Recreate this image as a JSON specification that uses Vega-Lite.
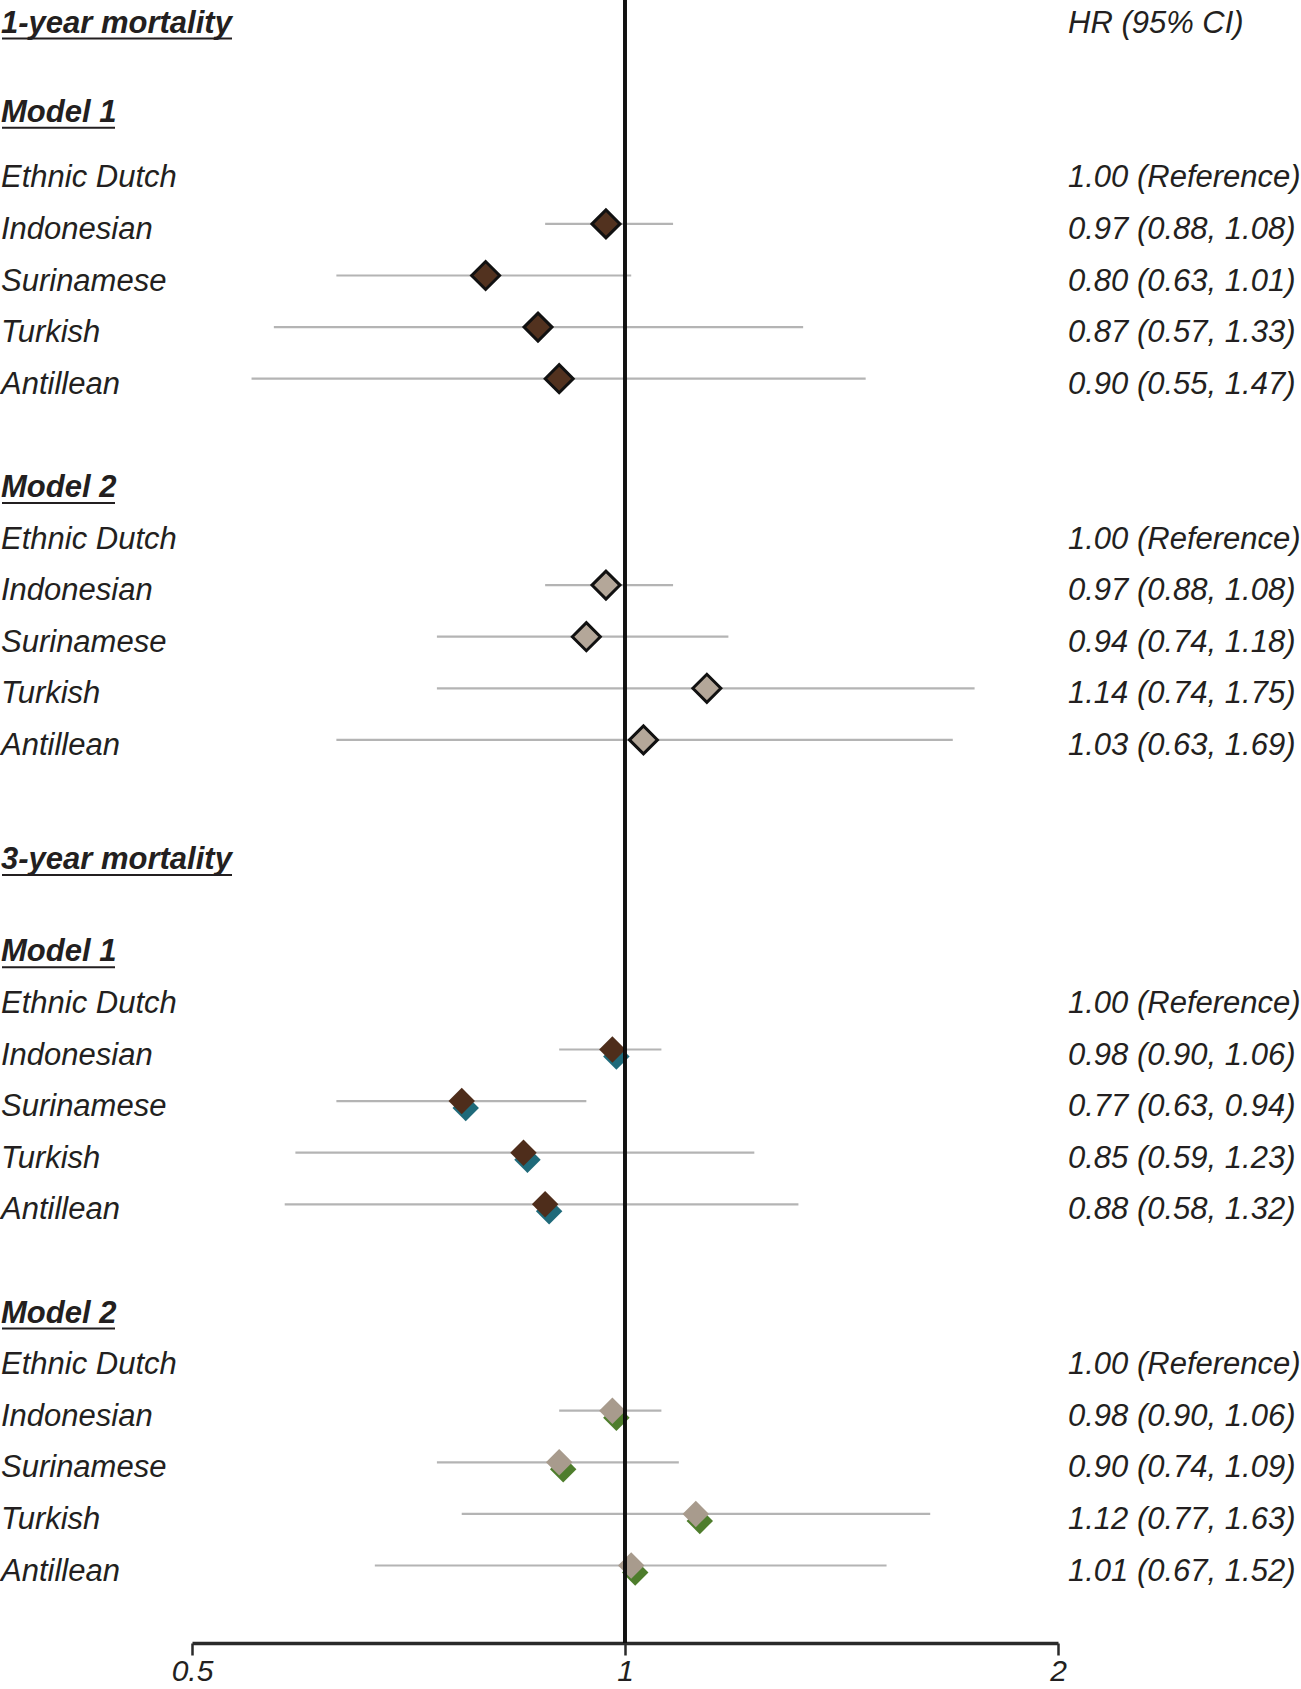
{
  "$schema": "https://vega.github.io/schema/vega-lite/v6.json",
  "width": 1301,
  "height": 1643,
  "autosize": {"type": "none"},
  "padding": {"left": 0, "top": 0, "right": 0, "bottom": 46},
  "background": "white",
  "config": {
    "view": {"stroke": null},
    "font": "Liberation Sans",
    "axisX": {
      "domainColor": "#2a2a2a", "domainWidth": 3.5,
      "tickColor": "#2a2a2a", "tickWidth": 2.5, "tickSize": 12,
      "labelPadding": 1, "labelFontSize": 30, "labelFontStyle": "italic",
      "labelColor": "#231f20", "labelFont": "Liberation Sans",
      "grid": false, "labelFlush": false, "labelOverlap": false
    }
  },
  "data": {
    "values": [
      {"id": "1y", "period": "1y", "model": null, "row_type": "title", "label": "1-year mortality", "hr": null, "lo": null, "hi": null, "hr_text": "HR (95% CI)"},
      {"id": "1y-M1", "period": "1y", "model": "Model 1", "row_type": "model", "label": "Model 1", "hr": null, "lo": null, "hi": null, "hr_text": null},
      {"id": "1y-M1-ED", "period": "1y", "model": "Model 1", "row_type": "group", "label": "Ethnic Dutch", "hr": null, "lo": null, "hi": null, "hr_text": "1.00 (Reference)"},
      {"id": "1y-M1-IN", "period": "1y", "model": "Model 1", "row_type": "group", "label": "Indonesian", "hr": 0.97, "lo": 0.88, "hi": 1.08, "hr_text": "0.97 (0.88, 1.08)"},
      {"id": "1y-M1-SU", "period": "1y", "model": "Model 1", "row_type": "group", "label": "Surinamese", "hr": 0.80, "lo": 0.63, "hi": 1.01, "hr_text": "0.80 (0.63, 1.01)"},
      {"id": "1y-M1-TU", "period": "1y", "model": "Model 1", "row_type": "group", "label": "Turkish", "hr": 0.87, "lo": 0.57, "hi": 1.33, "hr_text": "0.87 (0.57, 1.33)"},
      {"id": "1y-M1-AN", "period": "1y", "model": "Model 1", "row_type": "group", "label": "Antillean", "hr": 0.90, "lo": 0.55, "hi": 1.47, "hr_text": "0.90 (0.55, 1.47)"},
      {"id": "1y-M2", "period": "1y", "model": "Model 2", "row_type": "model", "label": "Model 2", "hr": null, "lo": null, "hi": null, "hr_text": null},
      {"id": "1y-M2-ED", "period": "1y", "model": "Model 2", "row_type": "group", "label": "Ethnic Dutch", "hr": null, "lo": null, "hi": null, "hr_text": "1.00 (Reference)"},
      {"id": "1y-M2-IN", "period": "1y", "model": "Model 2", "row_type": "group", "label": "Indonesian", "hr": 0.97, "lo": 0.88, "hi": 1.08, "hr_text": "0.97 (0.88, 1.08)"},
      {"id": "1y-M2-SU", "period": "1y", "model": "Model 2", "row_type": "group", "label": "Surinamese", "hr": 0.94, "lo": 0.74, "hi": 1.18, "hr_text": "0.94 (0.74, 1.18)"},
      {"id": "1y-M2-TU", "period": "1y", "model": "Model 2", "row_type": "group", "label": "Turkish", "hr": 1.14, "lo": 0.74, "hi": 1.75, "hr_text": "1.14 (0.74, 1.75)"},
      {"id": "1y-M2-AN", "period": "1y", "model": "Model 2", "row_type": "group", "label": "Antillean", "hr": 1.03, "lo": 0.63, "hi": 1.69, "hr_text": "1.03 (0.63, 1.69)"},
      {"id": "3y", "period": "3y", "model": null, "row_type": "title", "label": "3-year mortality", "hr": null, "lo": null, "hi": null, "hr_text": null},
      {"id": "3y-M1", "period": "3y", "model": "Model 1", "row_type": "model", "label": "Model 1", "hr": null, "lo": null, "hi": null, "hr_text": null},
      {"id": "3y-M1-ED", "period": "3y", "model": "Model 1", "row_type": "group", "label": "Ethnic Dutch", "hr": null, "lo": null, "hi": null, "hr_text": "1.00 (Reference)"},
      {"id": "3y-M1-IN", "period": "3y", "model": "Model 1", "row_type": "group", "label": "Indonesian", "hr": 0.98, "lo": 0.90, "hi": 1.06, "hr_text": "0.98 (0.90, 1.06)"},
      {"id": "3y-M1-SU", "period": "3y", "model": "Model 1", "row_type": "group", "label": "Surinamese", "hr": 0.77, "lo": 0.63, "hi": 0.94, "hr_text": "0.77 (0.63, 0.94)"},
      {"id": "3y-M1-TU", "period": "3y", "model": "Model 1", "row_type": "group", "label": "Turkish", "hr": 0.85, "lo": 0.59, "hi": 1.23, "hr_text": "0.85 (0.59, 1.23)"},
      {"id": "3y-M1-AN", "period": "3y", "model": "Model 1", "row_type": "group", "label": "Antillean", "hr": 0.88, "lo": 0.58, "hi": 1.32, "hr_text": "0.88 (0.58, 1.32)"},
      {"id": "3y-M2", "period": "3y", "model": "Model 2", "row_type": "model", "label": "Model 2", "hr": null, "lo": null, "hi": null, "hr_text": null},
      {"id": "3y-M2-ED", "period": "3y", "model": "Model 2", "row_type": "group", "label": "Ethnic Dutch", "hr": null, "lo": null, "hi": null, "hr_text": "1.00 (Reference)"},
      {"id": "3y-M2-IN", "period": "3y", "model": "Model 2", "row_type": "group", "label": "Indonesian", "hr": 0.98, "lo": 0.90, "hi": 1.06, "hr_text": "0.98 (0.90, 1.06)"},
      {"id": "3y-M2-SU", "period": "3y", "model": "Model 2", "row_type": "group", "label": "Surinamese", "hr": 0.90, "lo": 0.74, "hi": 1.09, "hr_text": "0.90 (0.74, 1.09)"},
      {"id": "3y-M2-TU", "period": "3y", "model": "Model 2", "row_type": "group", "label": "Turkish", "hr": 1.12, "lo": 0.77, "hi": 1.63, "hr_text": "1.12 (0.77, 1.63)"},
      {"id": "3y-M2-AN", "period": "3y", "model": "Model 2", "row_type": "group", "label": "Antillean", "hr": 1.01, "lo": 0.67, "hi": 1.52, "hr_text": "1.01 (0.67, 1.52)"}
    ]
  },
  "layer": [
    {
      "encoding": {
        "y": {
          "field": "id", "type": "nominal", "axis": null,
          "scale": {
            "type": "point", "padding": 0, "range": [17.5, 1565.5],
            "domain": ["1y", "gap1", "1y-M1", "1y-M1-ED", "1y-M1-IN", "1y-M1-SU", "1y-M1-TU", "1y-M1-AN", "gap2", "1y-M2", "1y-M2-ED", "1y-M2-IN", "1y-M2-SU", "1y-M2-TU", "1y-M2-AN", "gap3", "3y", "gap4", "3y-M1", "3y-M1-ED", "3y-M1-IN", "3y-M1-SU", "3y-M1-TU", "3y-M1-AN", "gap5", "3y-M2", "3y-M2-ED", "3y-M2-IN", "3y-M2-SU", "3y-M2-TU", "3y-M2-AN"]
          }
        }
      },
      "layer": [
        {
          "transform": [{"filter": "isValid(datum.lo)"}],
          "mark": {"type": "rule", "color": "#b4b4b4", "strokeWidth": 2.2},
          "encoding": {
            "x": {"field": "lo", "type": "quantitative", "scale": {"type": "log", "domain": [0.5, 2], "range": [192, 1058]}, "axis": {"values": [0.5, 1, 2], "title": null, "labelExpr": "format(datum.value, '~g')"}},
            "x2": {"field": "hi"}
          }
        },
        {
          "transform": [{"filter": "datum.period === '3y' && isValid(datum.hr)"}],
          "mark": {"type": "point", "shape": "diamond", "filled": true, "size": 700, "opacity": 1, "xOffset": 4, "yOffset": 7, "strokeWidth": 0},
          "encoding": {
            "x": {"field": "hr", "type": "quantitative", "scale": {"type": "log", "domain": [0.5, 2], "range": [192, 1058]}, "title": null},
            "fill": {"condition": {"test": "datum.model === 'Model 1'", "value": "#1f6a7a"}, "value": "#4e7d2c"}
          }
        },
        {
          "transform": [{"filter": "datum.period === '1y' && isValid(datum.hr)"}],
          "mark": {"type": "point", "shape": "diamond", "filled": true, "size": 784, "opacity": 1, "stroke": "#111111", "strokeWidth": 3},
          "encoding": {
            "x": {"field": "hr", "type": "quantitative", "scale": {"type": "log", "domain": [0.5, 2], "range": [192, 1058]}, "title": null},
            "fill": {"condition": {"test": "datum.model === 'Model 1'", "value": "#52321f"}, "value": "#b4a799"}
          }
        },
        {
          "transform": [{"filter": "datum.period === '3y' && isValid(datum.hr)"}],
          "mark": {"type": "point", "shape": "diamond", "filled": true, "size": 700, "opacity": 1, "strokeWidth": 0},
          "encoding": {
            "x": {"field": "hr", "type": "quantitative", "scale": {"type": "log", "domain": [0.5, 2], "range": [192, 1058]}, "title": null},
            "fill": {"condition": {"test": "datum.model === 'Model 1'", "value": "#4e2d1b"}, "value": "#a89b8d"}
          }
        },
        {
          "transform": [{"filter": "datum.row_type === 'group'"}],
          "mark": {"type": "text", "align": "left", "baseline": "alphabetic", "dy": 15, "fontSize": 31, "fontStyle": "italic", "color": "#231f20", "font": "Liberation Sans"},
          "encoding": {"x": {"value": 1}, "text": {"field": "label"}}
        },
        {
          "transform": [{"filter": "datum.row_type !== 'group' && datum.id !== '1y-M1' && datum.id !== '3y'"}],
          "mark": {"type": "text", "align": "left", "baseline": "alphabetic", "dy": 15, "fontSize": 31, "fontStyle": "italic", "fontWeight": "bold", "color": "#231f20", "font": "Liberation Sans"},
          "encoding": {"x": {"value": 1}, "text": {"field": "label"}}
        },
        {
          "transform": [{"filter": "datum.id === '1y-M1'"}],
          "mark": {"type": "text", "align": "left", "baseline": "alphabetic", "dy": 1, "fontSize": 31, "fontStyle": "italic", "fontWeight": "bold", "color": "#231f20", "font": "Liberation Sans"},
          "encoding": {"x": {"value": 1}, "text": {"field": "label"}}
        },
        {
          "transform": [{"filter": "datum.id === '3y'"}],
          "mark": {"type": "text", "align": "left", "baseline": "alphabetic", "dy": 26, "fontSize": 31, "fontStyle": "italic", "fontWeight": "bold", "color": "#231f20", "font": "Liberation Sans"},
          "encoding": {"x": {"value": 1}, "text": {"field": "label"}}
        },
        {
          "transform": [{"filter": "datum.id === '1y'"}],
          "mark": {"type": "rule", "color": "#231f20", "strokeWidth": 2, "yOffset": 21},
          "encoding": {"x": {"value": 2}, "x2": {"value": 232}}
        },
        {
          "transform": [{"filter": "datum.id === '3y'"}],
          "mark": {"type": "rule", "color": "#231f20", "strokeWidth": 2, "yOffset": 32},
          "encoding": {"x": {"value": 2}, "x2": {"value": 232}}
        },
        {
          "transform": [{"filter": "datum.row_type === 'model' && datum.id !== '1y-M1'"}],
          "mark": {"type": "rule", "color": "#231f20", "strokeWidth": 2, "yOffset": 21},
          "encoding": {"x": {"value": 2}, "x2": {"value": 115}}
        },
        {
          "transform": [{"filter": "datum.id === '1y-M1'"}],
          "mark": {"type": "rule", "color": "#231f20", "strokeWidth": 2, "yOffset": 7},
          "encoding": {"x": {"value": 2}, "x2": {"value": 115}}
        },
        {
          "transform": [{"filter": "isValid(datum.hr_text)"}],
          "mark": {"type": "text", "align": "left", "baseline": "alphabetic", "dy": 15, "fontSize": 31, "fontStyle": "italic", "color": "#231f20", "font": "Liberation Sans"},
          "encoding": {"x": {"value": 1068}, "text": {"field": "hr_text"}}
        }
      ]
    },
    {
      "mark": {"type": "rule", "color": "#111111", "strokeWidth": 2.2},
      "encoding": {
        "x": {"datum": 1, "type": "quantitative", "scale": {"type": "log", "domain": [0.5, 2], "range": [192, 1058]}, "axis": {"values": [0.5, 1, 2], "title": null, "labelExpr": "format(datum.value, '~g')"}}
      }
    }
  ]
}
